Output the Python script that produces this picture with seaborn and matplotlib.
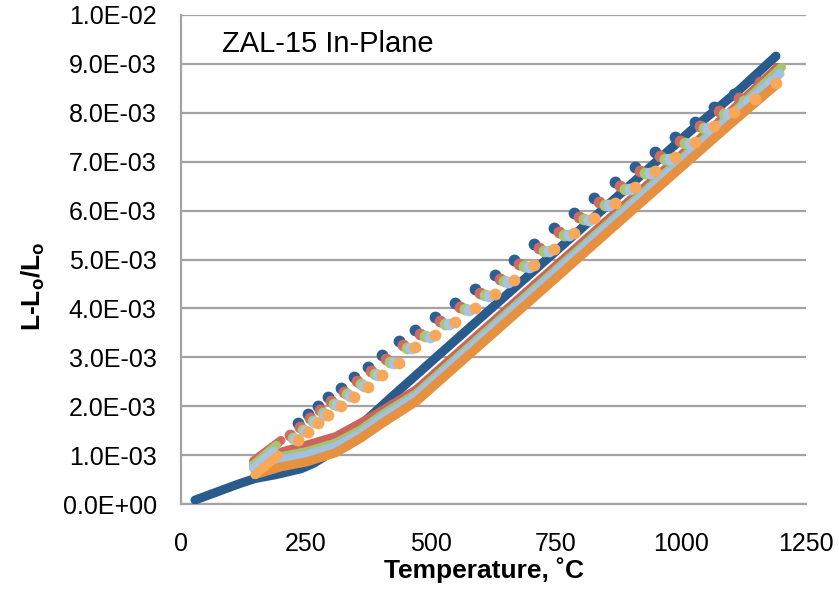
import numpy as np
import matplotlib
matplotlib.use("Agg")
import matplotlib.pyplot as plt
from matplotlib.ticker import FuncFormatter, MultipleLocator
import seaborn as sns

# ---------------------------------------------------------------------------
# Dilatometry of ZAL-15 (in-plane): five thermal cycles.
# Temperatures in degC, strain (L-Lo)/Lo in units of 1e-3.
# Heating ramps are dense records (drawn as thick traces), cooling ramps are
# sampled points, ending in a dense tail below ~200 degC.
# ---------------------------------------------------------------------------

# cycle 1 (blue)
heat_T_1 = [28, 65, 118, 148, 190, 240, 265, 290, 331, 418, 551, 698, 885, 1018, 1118, 1190]
heat_e_1 = [0.08, 0.22, 0.42, 0.52, 0.60, 0.72, 0.83, 0.99, 1.35, 2.16, 3.37, 4.70, 6.40, 7.62,
            8.48, 9.16]
cool_T_1 = [1148, 1106, 1066, 1028, 988, 948, 908, 868, 826, 786, 746, 706, 666, 628,
            588, 548, 508, 468, 435, 401, 373, 345, 319, 293, 273, 253, 233]
cool_e_1 = [8.72, 8.38, 8.11, 7.82, 7.51, 7.19, 6.90, 6.58, 6.25, 5.95, 5.64, 5.31, 4.99, 4.69,
            4.40, 4.11, 3.82, 3.56, 3.33, 3.04, 2.80, 2.59, 2.38, 2.19, 2.00, 1.84, 1.66]
tail_T_1 = []
tail_e_1 = []

# cycle 2 (red)
heat_T_2 = [147, 200, 250, 310, 360, 404, 471, 700, 900, 1100, 1193]
heat_e_2 = [0.88, 1.06, 1.20, 1.38, 1.66, 1.92, 2.34, 4.42, 6.23, 8.03, 8.93]
cool_T_2 = [1158, 1116, 1076, 1038, 998, 958, 918, 878, 836, 796, 756, 716, 676, 638,
            598, 558, 518, 478, 443, 409, 380, 352, 325, 299, 278, 258, 238, 218]
cool_e_2 = [8.64, 8.30, 8.03, 7.74, 7.43, 7.11, 6.82, 6.50, 6.17, 5.87, 5.56, 5.23, 4.91, 4.61,
            4.32, 4.03, 3.74, 3.48, 3.25, 2.96, 2.72, 2.51, 2.30, 2.11, 1.92, 1.76, 1.58, 1.41]
tail_T_2 = [200, 145]
tail_e_2 = [1.30, 0.88]

# cycle 3 (green)
heat_T_3 = [145, 200, 251, 310, 360, 404, 471, 700, 900, 1100, 1201]
heat_e_3 = [0.80, 0.97, 1.07, 1.25, 1.52, 1.84, 2.26, 4.34, 6.15, 7.96, 8.93]
cool_T_3 = [1169, 1127, 1086, 1047, 1008, 968, 928, 888, 847, 806, 766, 726, 686, 647,
            608, 568, 528, 488, 452, 418, 387, 359, 332, 306, 283, 263, 243, 223]
cool_e_3 = [8.59, 8.25, 7.98, 7.69, 7.38, 7.06, 6.77, 6.45, 6.12, 5.82, 5.51, 5.18, 4.86, 4.56,
            4.27, 3.98, 3.69, 3.43, 3.20, 2.90, 2.66, 2.45, 2.24, 2.05, 1.86, 1.70, 1.52, 1.35]
tail_T_3 = [191, 145]
tail_e_3 = [1.20, 0.80]

# cycle 4 (light blue)
heat_T_4 = [145, 200, 251, 310, 360, 404, 471, 700, 900, 1100, 1198]
heat_e_4 = [0.73, 0.90, 1.00, 1.18, 1.45, 1.78, 2.21, 4.29, 6.10, 7.91, 8.80]
cool_T_4 = [1178, 1136, 1095, 1055, 1017, 977, 937, 897, 856, 815, 775, 735, 695, 655,
            617, 577, 537, 497, 459, 425, 393, 365, 338, 312, 287, 267, 247, 227]
cool_e_4 = [8.58, 8.24, 7.97, 7.68, 7.37, 7.05, 6.76, 6.44, 6.11, 5.81, 5.50, 5.17, 4.85, 4.55,
            4.26, 3.97, 3.68, 3.42, 3.18, 2.88, 2.63, 2.42, 2.21, 2.02, 1.83, 1.67, 1.49, 1.32]
tail_T_4 = [185, 145]
tail_e_4 = [1.08, 0.73]

# cycle 5 (orange)
heat_T_5 = [148, 200, 251, 310, 360, 404, 471, 700, 900, 1100, 1188]
heat_e_5 = [0.60, 0.76, 0.86, 1.05, 1.35, 1.66, 2.10, 4.17, 5.98, 7.78, 8.55]
cool_T_5 = [1190, 1148, 1106, 1066, 1028, 988, 948, 908, 868, 826, 786, 746, 706, 666,
            628, 588, 548, 508, 468, 435, 401, 373, 345, 319, 293, 273, 253, 233]
cool_e_5 = [8.60, 8.28, 8.01, 7.72, 7.41, 7.09, 6.80, 6.48, 6.15, 5.85, 5.54, 5.21, 4.89, 4.59,
            4.30, 4.01, 3.72, 3.46, 3.21, 2.89, 2.63, 2.40, 2.19, 2.00, 1.81, 1.65, 1.47, 1.30]
tail_T_5 = [195, 148]
tail_e_5 = [1.00, 0.60]

line_colors = ["#2A5B8D", "#CB655B", "#A6C26C", "#A2C0E2", "#E6913F"]
dot_colors = ["#2D5F95", "#D06B61", "#AAC672", "#A7C4E4", "#F9A85A"]

cycles = [
    (heat_T_1, heat_e_1, cool_T_1, cool_e_1, tail_T_1, tail_e_1),
    (heat_T_2, heat_e_2, cool_T_2, cool_e_2, tail_T_2, tail_e_2),
    (heat_T_3, heat_e_3, cool_T_3, cool_e_3, tail_T_3, tail_e_3),
    (heat_T_4, heat_e_4, cool_T_4, cool_e_4, tail_T_4, tail_e_4),
    (heat_T_5, heat_e_5, cool_T_5, cool_e_5, tail_T_5, tail_e_5),
]

title_text = "ZAL-15 In-Plane"
x_label = "Temperature, ˚C"
y_label = r"L-L$_{\mathbf{o}}$/L$_{\mathbf{o}}$"

sns.set_theme(style="white")
plt.rcParams["font.family"] = ["Liberation Sans", "DejaVu Sans"]
plt.rcParams["mathtext.fontset"] = "custom"
plt.rcParams["mathtext.rm"] = "Liberation Sans"
plt.rcParams["mathtext.bf"] = "Liberation Sans:bold"
plt.rcParams["text.color"] = "black"
plt.rcParams["axes.labelcolor"] = "black"

fig = plt.figure(figsize=(8.39, 5.92), dpi=100)
ax = fig.add_axes([181 / 839, 1 - 504 / 592, 625 / 839, 489 / 592])

scale = 1e-3
lw = 6.5        # trace width (pt)
dot_area = 72   # marker area (pt^2)

for i, (hT, he, cT, ce, tT, te) in enumerate(cycles):
    z = 3 + 3 * i
    sns.lineplot(x=hT, y=np.asarray(he) * scale, color=line_colors[i], linewidth=lw,
                 sort=False, estimator=None, solid_capstyle="round",
                 solid_joinstyle="round", ax=ax, zorder=z)
    if tT:
        sns.lineplot(x=tT, y=np.asarray(te) * scale, color=dot_colors[i], linewidth=lw,
                     sort=False, estimator=None, solid_capstyle="round", ax=ax,
                     zorder=z + 1)
    sns.scatterplot(x=cT, y=np.asarray(ce) * scale, color=dot_colors[i], s=dot_area,
                    linewidth=0, ax=ax, zorder=z + 2)

grid_grey = "#A3A3A3"
ax.set_xlim(0, 1250)
ax.set_ylim(0, 0.01)
ax.xaxis.set_major_locator(MultipleLocator(250))
ax.yaxis.set_major_locator(MultipleLocator(0.001))
ax.yaxis.set_major_formatter(FuncFormatter(lambda v, p: f"{v:.1E}"))
ax.grid(axis="y", color=grid_grey, linewidth=1.6)
ax.grid(axis="x", visible=False)
ax.set_axisbelow(True)

for side in ("top", "right"):
    ax.spines[side].set_visible(False)
for side in ("left", "bottom"):
    ax.spines[side].set_color(grid_grey)
    ax.spines[side].set_linewidth(1.6)

ax.tick_params(axis="both", which="major", direction="out", length=5.5, width=1.6,
               color=grid_grey, labelsize=18, labelcolor="black")
ax.tick_params(axis="x", pad=15)
ax.tick_params(axis="y", pad=12)

ax.set_xlabel(x_label, fontsize=19, fontweight="bold", color="black")
ax.set_ylabel(y_label, fontsize=19, fontweight="bold", color="black")
ax.xaxis.set_label_coords(0.485, -0.108)
ax.yaxis.set_label_coords(-0.214, 0.445)

ax.text(0.066, 0.94, title_text, transform=ax.transAxes, fontsize=21,
        ha="left", va="center", color="black")

fig.savefig("out.png", dpi=100)
